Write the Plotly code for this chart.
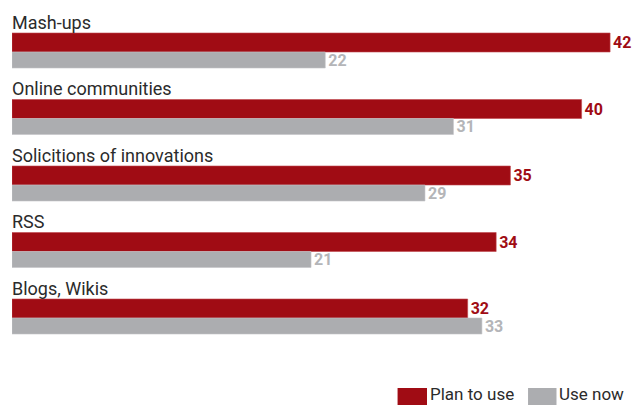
import plotly.graph_objects as go

# Survey results: share of respondents per Web 2.0 tool
categories = ["Mash-ups", "Online communities", "Solicitions of innovations", "RSS", "Blogs, Wikis"]
plan_to_use = [42, 40, 35, 34, 32]
use_now = [22, 31, 29, 21, 33]
series_names = ["Plan to use", "Use now"]

RED = "#a00c14"
GRAY = "#acadb0"
TEXT = "#2b2b2b"
FONT = "Roboto, Liberation Sans, Arial, sans-serif"

W, H = 634, 405
GROUP_PX = 66.5          # vertical pitch of one category group
RED_CENTER_PX = 42.5     # centre of the first red bar from top
x_max = (W - 12) / 14.24  # 14.24 px per percentage point

def px_to_unit(p):
    return p / GROUP_PX

y0 = -px_to_unit(RED_CENTER_PX)
y1 = y0 + px_to_unit(H)

idx = list(range(len(categories)))
red_y = idx
gray_y = [i + px_to_unit(17.5) for i in idx]
label_y = [i + px_to_unit(-20.5) for i in idx]

fig = go.Figure()
fig.add_trace(go.Bar(
    name=series_names[0], orientation="h",
    x=plan_to_use, y=red_y, width=px_to_unit(19),
    marker=dict(color=RED, line=dict(color="#c0474d", width=0.6)),
    text=plan_to_use, textposition="outside", constraintext="none",
    textfont=dict(family=FONT, size=16, color=RED, weight="bold"),
    cliponaxis=False, showlegend=False,
))
fig.add_trace(go.Bar(
    name=series_names[1], orientation="h",
    x=use_now, y=gray_y, width=px_to_unit(16),
    marker=dict(color=GRAY, line=dict(color="#c4c5c8", width=0.6)),
    text=use_now, textposition="outside", constraintext="none",
    textfont=dict(family=FONT, size=16, color="#b4b5b8", weight="bold"),
    cliponaxis=False, showlegend=False,
))

annotations = []
for cat, ly in zip(categories, label_y):
    annotations.append(dict(
        x=0, y=ly, xref="x", yref="y", text=cat, showarrow=False,
        xanchor="left", yanchor="middle", xshift=-2,
        font=dict(family=FONT, size=18, color=TEXT),
    ))

# Legend built from swatches and labels along the bottom right
def px(x, y):
    return x / W, 1 - y / H

shapes = []
legend_items = [(393, 423, RED, 424), (526, 555, GRAY, 556)]
for (xa, xb, col, tx), name in zip(legend_items, series_names):
    (px0, py0), (px1, py1) = px(xa, 388), px(xb, 405)
    shapes.append(dict(type="rect", xref="paper", yref="paper",
                       x0=px0, x1=px1, y0=py1, y1=py0,
                       fillcolor=col, line=dict(width=0)))
    tx_p, ty_p = px(tx, 394)
    annotations.append(dict(
        x=tx_p, y=ty_p, xref="paper", yref="paper", text=name,
        showarrow=False, xanchor="left", yanchor="middle",
        font=dict(family=FONT, size=17, color=TEXT),
    ))

fig.update_layout(
    width=W, height=H, barmode="overlay",
    margin=dict(l=12, r=0, t=0, b=0),
    paper_bgcolor="white", plot_bgcolor="white",
    xaxis=dict(range=[0, x_max], visible=False, fixedrange=True),
    yaxis=dict(range=[y1, y0], visible=False, fixedrange=True),
    annotations=annotations, shapes=shapes,
)

fig.write_html("out.html")
